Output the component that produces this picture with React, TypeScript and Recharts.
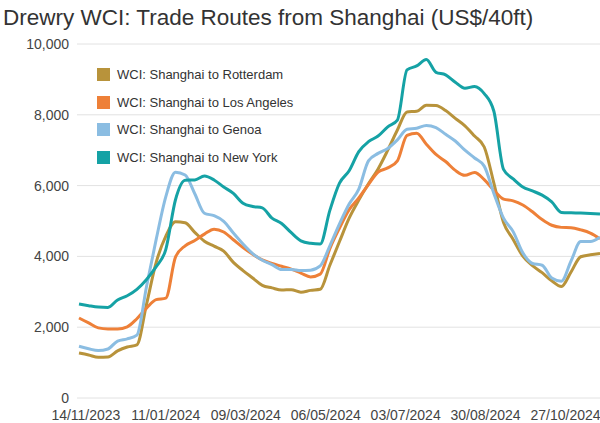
import React from "react";
import { LineChart, Line, XAxis, YAxis, CartesianGrid } from "recharts";

const dates = [
  "09/11/2023", "16/11/2023", "23/11/2023", "30/11/2023", "07/12/2023", "14/12/2023",
  "21/12/2023", "28/12/2023", "04/01/2024", "11/01/2024", "18/01/2024", "25/01/2024",
  "01/02/2024", "08/02/2024", "15/02/2024", "22/02/2024", "29/02/2024", "07/03/2024",
  "14/03/2024", "21/03/2024", "28/03/2024", "04/04/2024", "11/04/2024", "18/04/2024",
  "25/04/2024", "02/05/2024", "09/05/2024", "16/05/2024", "23/05/2024", "30/05/2024",
  "06/06/2024", "13/06/2024", "20/06/2024", "27/06/2024", "04/07/2024", "11/07/2024",
  "18/07/2024", "25/07/2024", "01/08/2024", "08/08/2024", "15/08/2024", "22/08/2024",
  "29/08/2024", "05/09/2024", "12/09/2024", "19/09/2024", "26/09/2024", "03/10/2024",
  "10/10/2024", "17/10/2024", "24/10/2024", "31/10/2024", "07/11/2024", "14/11/2024",
  "21/11/2024",
];

const rotterdam = [
  1270, 1215, 1150, 1160, 1330, 1440, 1500, 2650, 3830, 4570, 4980, 4950,
  4680, 4430, 4290, 4150, 3830, 3600, 3390, 3180, 3110, 3050, 3060, 2990,
  3040, 3070, 3750, 4420, 5080, 5590, 6050, 6470, 7000, 7570, 8080, 8100,
  8270, 8260, 8120, 7900, 7690, 7400, 7090, 6070, 4960, 4480, 4010, 3740,
  3540, 3310, 3150, 3560, 3990, 4045, 4080,
];

const losAngeles = [
  2260, 2120, 1980, 1950, 1950, 2010, 2240, 2540, 2780, 2820, 3980, 4300,
  4450, 4630, 4770, 4690, 4470, 4250, 4060, 3900, 3800, 3720, 3640, 3530,
  3420, 3500, 4220, 4800, 5320, 5650, 6030, 6380, 6500, 6700, 7420, 7480,
  7170, 6880, 6680, 6430, 6290, 6370, 6170, 5870, 5620, 5570, 5450, 5260,
  5040, 4880, 4820, 4810, 4750, 4660, 4500,
];

const genoa = [
  1460, 1390, 1340, 1385, 1610, 1670, 1775, 3150, 4480, 5690, 6380, 6300,
  5770, 5220, 5150, 4990, 4660, 4350, 4080, 3890, 3770, 3630, 3630, 3600,
  3610, 3730, 4300, 4920, 5480, 5900, 6700, 6910, 7050, 7290, 7590, 7620,
  7700, 7640, 7450, 7260, 7000, 6780, 6550, 5780, 5080, 4700, 4100, 3800,
  3750, 3390, 3300, 3870, 4420, 4420, 4540,
];

const newYork = [
  2655, 2608, 2570, 2560, 2770, 2890, 3070, 3350, 3710, 4200, 5600, 6150,
  6160, 6270, 6160, 5960, 5780, 5500, 5410, 5370, 5080, 4930, 4670, 4440,
  4370, 4350, 5300, 6070, 6420, 6960, 7240, 7400, 7660, 7850, 9270, 9380,
  9560, 9200, 9130, 8920, 8750, 8800, 8600, 8100, 6460, 6190, 5960, 5850,
  5730, 5540, 5240, 5230, 5225, 5215, 5200,
];

const tickLabels = [
  "14/11/2023", "11/01/2024", "09/03/2024", "06/05/2024", "03/07/2024", "30/08/2024", "27/10/2024",
];
const yTicks = [0, 2000, 4000, 6000, 8000, 10000];

const series = [
  { key: "rotterdam", name: "WCI: Shanghai to Rotterdam", color: "#b8933b" },
  { key: "losAngeles", name: "WCI: Shanghai to Los Angeles", color: "#ee8038" },
  { key: "genoa", name: "WCI: Shanghai to Genoa", color: "#8bbde2" },
  { key: "newYork", name: "WCI: Shanghai to New York", color: "#15a2a5" },
];

const FONT = '"Liberation Sans", Arial, sans-serif';

const toTime = (d: string) => {
  const [dd, mm, yy] = d.split("/").map(Number);
  return Date.UTC(yy, mm - 1, dd);
};

const pad = (n: number) => String(n).padStart(2, "0");
const fmtDate = (t: number) => {
  const d = new Date(t);
  return `${pad(d.getUTCDate())}/${pad(d.getUTCMonth() + 1)}/${d.getUTCFullYear()}`;
};

const data = dates.map((d, i) => ({
  t: toTime(d),
  rotterdam: rotterdam[i],
  losAngeles: losAngeles[i],
  genoa: genoa[i],
  newYork: newYork[i],
}));

function LegendBox() {
  return (
    <div
      style={{
        position: "absolute",
        left: 97,
        top: 61,
        fontFamily: FONT,
        fontSize: 13,
        color: "#333",
        pointerEvents: "none",
      }}
    >
      {series.map((s) => (
        <div key={s.key} style={{ display: "flex", alignItems: "center", height: 27.5 }}>
          <span style={{ width: 13, height: 13, background: s.color, marginRight: 7, display: "inline-block" }} />
          <span>{s.name}</span>
        </div>
      ))}
    </div>
  );
}

export default function App() {
  return (
    <div style={{ position: "absolute", left: 0, top: 0, width: 600, height: 423, background: "#fff" }}>
      <div
        style={{
          position: "absolute",
          left: 3,
          top: 4,
          fontFamily: FONT,
          fontSize: 22.5,
          lineHeight: "28px",
          color: "#333",
          whiteSpace: "nowrap",
        }}
      >
        Drewry WCI: Trade Routes from Shanghai (US$/40ft)
      </div>
      <LineChart width={600} height={423} data={data} margin={{ top: 44, right: 0, bottom: 0, left: 0 }}>
        <CartesianGrid vertical={false} stroke="#e2e2e2" />
        <XAxis
          type="number"
          dataKey="t"
          domain={[toTime(dates[0]), toTime(dates[dates.length - 1])]}
          ticks={tickLabels.map(toTime)}
          tickFormatter={fmtDate}
          interval={0}
          axisLine={false}
          tickLine={false}
          tickMargin={6}
          height={25}
          padding={{ left: 2, right: 0 }}
          tick={{ fontSize: 14, fill: "#444", fontFamily: FONT }}
        />
        <YAxis
          domain={[0, 10000]}
          ticks={yTicks}
          tickFormatter={(v: number) => v.toLocaleString("en-US")}
          axisLine={false}
          tickLine={false}
          width={77}
          tick={{ fontSize: 14, fill: "#444", fontFamily: FONT }}
        />
        {series.map((s) => (
          <Line
            key={s.key}
            type="monotone"
            dataKey={s.key}
            name={s.name}
            stroke={s.color}
            strokeWidth={3}
            dot={false}
            isAnimationActive={false}
          />
        ))}
      </LineChart>
      <LegendBox />
    </div>
  );
}
